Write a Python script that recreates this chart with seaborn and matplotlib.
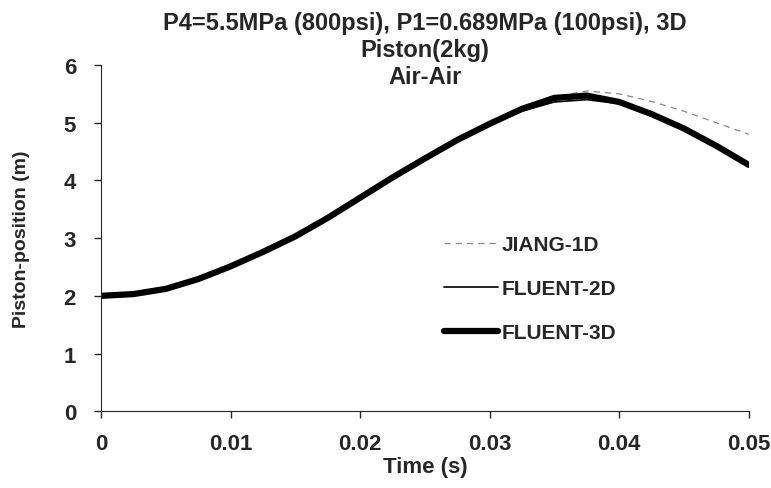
import seaborn as sns
import matplotlib.pyplot as plt
import pandas as pd
import numpy as np

# time in seconds
t = [0, 0.0025, 0.005, 0.0075, 0.01, 0.0125, 0.015, 0.0175, 0.02, 0.0225,
     0.025, 0.0275, 0.03, 0.0325, 0.035, 0.0375, 0.04, 0.0425, 0.045, 0.0475, 0.05]

jiang_1d = [2.0, 2.03, 2.12, 2.29, 2.51, 2.76, 3.03, 3.35, 3.7, 4.05,
            4.38, 4.7, 4.98, 5.24, 5.45, 5.55, 5.5, 5.37, 5.2, 5.0, 4.8]
fluent_2d = [2.0, 2.03, 2.12, 2.29, 2.51, 2.76, 3.03, 3.35, 3.7, 4.05,
             4.38, 4.7, 4.96, 5.2, 5.36, 5.4, 5.33, 5.14, 4.89, 4.59, 4.27]
fluent_3d = [2.0, 2.03, 2.12, 2.29, 2.51, 2.76, 3.03, 3.35, 3.7, 4.05,
             4.38, 4.7, 4.98, 5.24, 5.43, 5.47, 5.36, 5.15, 4.9, 4.6, 4.27]

df = pd.DataFrame({"t": t, "JIANG-1D": jiang_1d, "FLUENT-2D": fluent_2d, "FLUENT-3D": fluent_3d})

sns.set_style("ticks")
plt.rcParams['font.family'] = ['Liberation Sans', 'DejaVu Sans']

fig = plt.figure(figsize=(7.71, 4.89), dpi=100)
ax = fig.add_axes([0.131, 0.157, 0.84, 0.708])

sns.lineplot(data=df, x="t", y="JIANG-1D", ax=ax, color="#888888", lw=0.9,
             linestyle=(0, (5, 4)), label="JIANG-1D")
sns.lineplot(data=df, x="t", y="FLUENT-3D", ax=ax, color="black", lw=4.5, label="FLUENT-3D")
sns.lineplot(data=df, x="t", y="FLUENT-2D", ax=ax, color="black", lw=1.2, label="FLUENT-2D")

ax.set_xlim(0, 0.05)
ax.set_ylim(0, 6)
ax.set_xticks([0, 0.01, 0.02, 0.03, 0.04, 0.05])
ax.set_xticklabels(["0", "0.01", "0.02", "0.03", "0.04", "0.05"])
ax.set_yticks(range(7))
sns.despine(ax=ax)
ax.tick_params(labelsize=16, length=5, width=1)
for lab in ax.get_xticklabels() + ax.get_yticklabels():
    lab.set_fontweight("bold")
ax.tick_params(axis="x", pad=11)
ax.tick_params(axis="y", pad=13)

ax.set_xlabel("Time (s)", fontsize=16, fontweight="bold", labelpad=1)
ax.set_ylabel("Piston-position (m)", fontsize=14, fontweight="bold", labelpad=24)
ax.set_title("P4=5.5MPa (800psi), P1=0.689MPa (100psi), 3D\nPiston(2kg)\nAir-Air",
             fontsize=17, fontweight="bold", linespacing=1.2, y=0.925)

handles, labels = ax.get_legend_handles_labels()
order = [labels.index("JIANG-1D"), labels.index("FLUENT-2D"), labels.index("FLUENT-3D")]
ax.legend([handles[i] for i in order], [labels[i] for i in order],
          loc="center left", bbox_to_anchor=(0.5, 0.355), frameon=False,
          prop={"size": 15, "weight": "bold"}, labelspacing=1.2,
          handlelength=2.6, handletextpad=0.2)

fig.savefig("out.png", dpi=100)
